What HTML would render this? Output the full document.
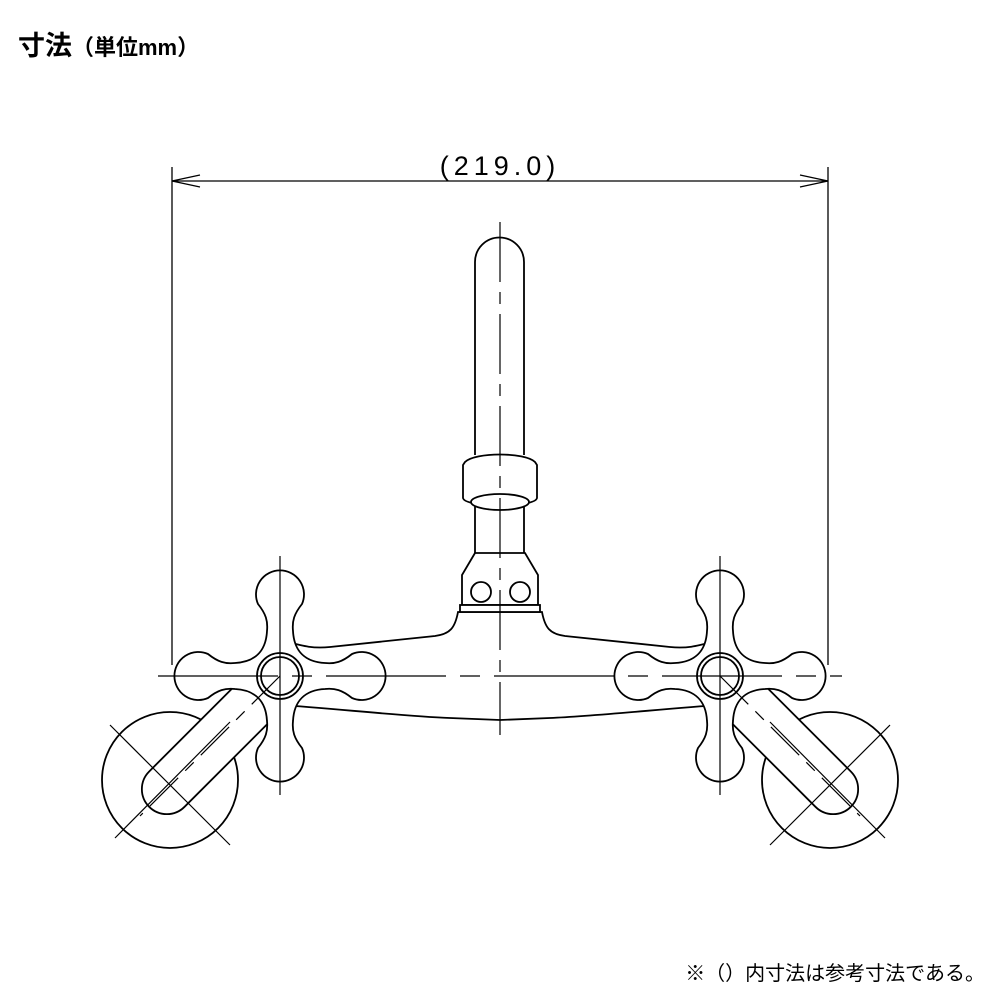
<!DOCTYPE html>
<html><head><meta charset="utf-8"><style>
html,body{margin:0;padding:0;background:#fff;width:1000px;height:1000px;overflow:hidden}
svg{position:absolute;left:0;top:0}
</style></head><body>
<svg width="1000" height="1000" viewBox="0 0 1000 1000" xmlns="http://www.w3.org/2000/svg">
<defs>
<path id="cross" d="M 22,-72 C 14,-62 12,-55 13,-45 C 14,-25 25,-14 45,-13 C 55,-12 62,-14 72,-22 A 24 24 0 1 1 72,22 C 62,14 55,12 45,13 C 25,14 14,25 13,45 C 12,55 14,62 22,72 A 24 24 0 1 1 -22,72 C -14,62 -12,55 -13,45 C -14,25 -25,14 -45,13 C -55,12 -62,14 -72,22 A 24 24 0 1 1 -72,-22 C -62,-14 -55,-12 -45,-13 C -25,-14 -14,-25 -13,-45 C -12,-55 -14,-62 -22,-72 A 24 24 0 1 1 22,-72 Z"/>
</defs>
<text x="18" y="55" font-family="'Liberation Sans','Noto Sans CJK JP',sans-serif" font-weight="bold" font-size="27">寸法<tspan font-size="22">（単位mm）</tspan></text>
<text x="985" y="980" text-anchor="end" font-family="'Liberation Sans','Noto Sans CJK JP',sans-serif" font-size="20">※（）内寸法は参考寸法である。</text>
<g fill="none" stroke="#000" stroke-width="1.3">
<line x1="172" y1="167" x2="172" y2="665"/>
<line x1="828" y1="167" x2="828" y2="665"/>
<line x1="172" y1="181" x2="828" y2="181"/>
<path d="M172,181 l28,-6 M172,181 l28,6 M828,181 l-28,-6 M828,181 l-28,6"/>
</g>
<text x="500" y="175" text-anchor="middle" font-family="'Liberation Sans',sans-serif" font-size="27" letter-spacing="5">(219.0)</text>
<g stroke="#000" stroke-width="1.8" fill="#fff">
<circle cx="170" cy="780" r="68"/>
<circle cx="830" cy="780" r="68"/>
<g transform="translate(280,676) rotate(135)"><rect x="0" y="-25" width="185" height="50" rx="25"/></g>
<g transform="translate(720,676) rotate(45)"><rect x="0" y="-25" width="185" height="50" rx="25"/></g>
<path d="M458,612 C455,628 450,634 435,636 L330,647 C310,649 300,645 280,640 L280,705 C330,708 400,716 450,718 L500,720 L550,718 C600,716 670,708 720,705 L720,640 C700,645 690,649 670,647 L565,636 C550,634 545,628 542,612 Z"/>
<path d="M475,455 L475,262 A24.5 24.5 0 0 1 524,262 L524,455"/>
<path d="M475,553 L475,505 M524,553 L524,505"/>
<path d="M465,462 C475,452 525,452 535,462 L537,465 L537,498 C535,508 465,508 463,498 L463,465 Z"/>
<ellipse cx="500" cy="502" rx="29" ry="8"/>
<path d="M475,553 L462,575 L462,605 L538,605 L538,575 L525,553 Z"/>
<circle cx="481" cy="592" r="10"/>
<circle cx="520" cy="592" r="10"/>
<rect x="460" y="605" width="80" height="7"/>
<use href="#cross" transform="translate(280,676)"/>
<use href="#cross" transform="translate(720,676)"/>
<circle cx="280" cy="676" r="23"/><circle cx="280" cy="676" r="19"/>
<circle cx="720" cy="676" r="23"/><circle cx="720" cy="676" r="19"/>
</g>
<g stroke="#000" stroke-width="1.2" fill="none">
<line x1="158" y1="676" x2="842" y2="676" stroke-dasharray="120,14,20,14"/>
<line x1="500" y1="222" x2="500" y2="735" stroke-dasharray="60,10,12,10"/>
<line x1="280" y1="556" x2="280" y2="795"/>
<line x1="720" y1="556" x2="720" y2="795"/>
<line x1="280" y1="676" x2="140" y2="816" stroke-dasharray="40,10,12,10"/>
<line x1="720" y1="676" x2="860" y2="816" stroke-dasharray="40,10,12,10"/>
<line x1="110" y1="725" x2="230" y2="845"/>
<line x1="115" y1="838" x2="230" y2="722"/>
<line x1="890" y1="725" x2="770" y2="845"/>
<line x1="885" y1="838" x2="770" y2="722"/>
</g>
</svg>
</body></html>
